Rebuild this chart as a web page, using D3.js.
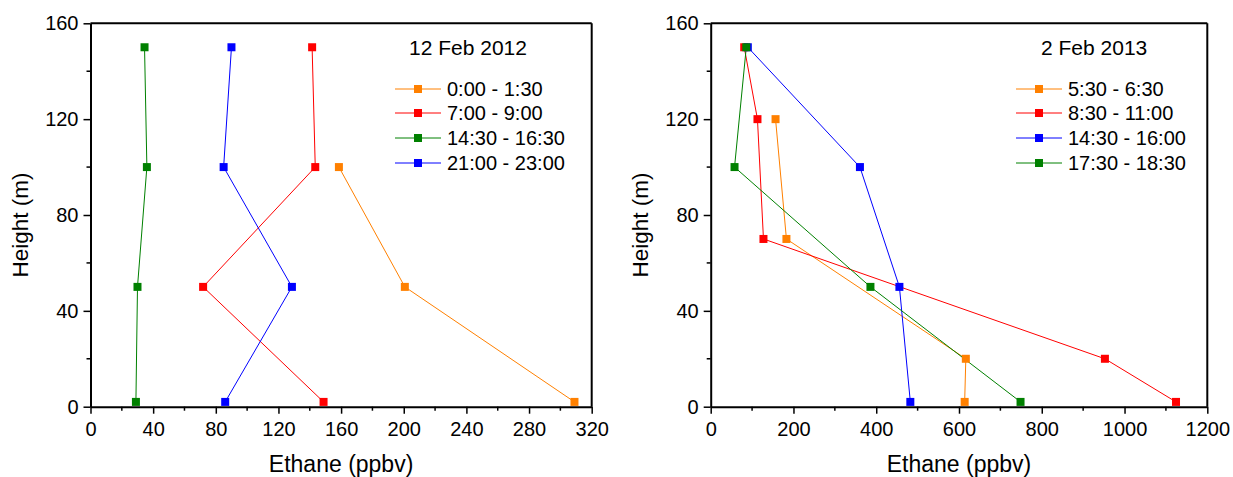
<!DOCTYPE html>
<html><head><meta charset="utf-8">
<script src="https://cdn.jsdelivr.net/npm/d3@7"></script>
<style>body{margin:0;background:#fff}svg{display:block}text{font-family:"Liberation Sans",Arial,sans-serif;fill:#000}</style>
</head><body><svg id="c" width="1233" height="477"></svg>
<script>
// Panel 1: 12 Feb 2012
const title1 = "12 Feb 2012";
const series1Names = ["0:00 - 1:30","7:00 - 9:00","14:30 - 16:30","21:00 - 23:00"];
const series1Colors = ["#FF8000","#FF0000","#008000","#0000FF"];
const s1_0000 = [[309,2],[200.7,50],[158.6,100]];
const s1_0700 = [[148.8,2],[71.9,50],[143.5,100],[141.5,150]];
const s1_1430 = [[29,2],[30,50],[36,100],[34.5,150]];
const s1_2100 = [[86,2],[128.6,50],[85,100],[90,150]];
const xTicks1 = [0,40,80,120,160,200,240,280,320];

// Panel 2: 2 Feb 2013
const title2 = "2 Feb 2013";
const series2Names = ["5:30 - 6:30","8:30 - 11:00","14:30 - 16:00","17:30 - 18:30"];
const series2Colors = ["#FF8000","#FF0000","#0000FF","#008000"];
const s2_0530 = [[156.7,120],[183,70],[616.5,20],[613.7,2]];
const s2_0830 = [[81,150],[113,120],[127.5,70],[952.6,20],[1124.4,2]];
const s2_1430 = [[89.7,150],[360.6,100],[456,50],[482.4,2]];
const s2_1730 = [[86,150],[57.6,100],[386,50],[748.7,2]];
const xTicks2 = [0,200,400,600,800,1000,1200];

const yTicks = [0,40,80,120,160];

const svg = d3.select("#c");

function panel(cfg){
  const g = svg.append("g");
  const x = d3.scaleLinear().domain(cfg.xDomain).range([cfg.x0, cfg.x1]);
  const y = d3.scaleLinear().domain([0,160]).range([406.7, 23.3]);

  // minor ticks
  const xMinor = d3.range(cfg.xDomain[0], cfg.xDomain[1]+1e-9, cfg.xMinorStep).filter(v=>!cfg.xTicks.includes(v));
  g.selectAll(".xm").data(xMinor).join("line")
    .attr("x1",d=>x(d)).attr("x2",d=>x(d)).attr("y1",406.7).attr("y2",410.7)
    .attr("stroke","#000").attr("stroke-width",1.5);
  const yMinor = [20,60,100,140];
  g.selectAll(".ym").data(yMinor).join("line")
    .attr("x1",cfg.x0-4).attr("x2",cfg.x0).attr("y1",d=>y(d)).attr("y2",d=>y(d))
    .attr("stroke","#000").attr("stroke-width",1.5);

  // x axis
  const xa = g.append("g").attr("transform","translate(0,406.7)")
    .call(d3.axisBottom(x).tickValues(cfg.xTicks).tickSize(7).tickSizeOuter(0).tickFormat(d3.format("d")));
  xa.select(".domain").attr("stroke-width",2);
  xa.selectAll(".tick line").attr("stroke-width",1.5);
  xa.selectAll("text").attr("font-size",20).attr("dy",null).attr("y",29.5);

  const ya = g.append("g").attr("transform",`translate(${cfg.x0},0)`)
    .call(d3.axisLeft(y).tickValues(yTicks).tickSize(7).tickSizeOuter(0));
  ya.select(".domain").attr("stroke-width",2);
  ya.selectAll(".tick line").attr("stroke-width",1.5);
  ya.selectAll("text").attr("font-size",20).attr("x",-12);

  // box top & right
  g.append("line").attr("x1",cfg.x0).attr("x2",cfg.x1).attr("y1",23.3).attr("y2",23.3).attr("stroke","#000").attr("stroke-width",2);
  g.append("line").attr("x1",cfg.x1).attr("x2",cfg.x1).attr("y1",23.3).attr("y2",406.7).attr("stroke","#000").attr("stroke-width",2);

  // axis titles
  g.append("text").attr("x",(cfg.x0+cfg.x1)/2).attr("y",472).attr("text-anchor","middle").attr("font-size",23).text("Ethane (ppbv)");
  g.append("text").attr("transform",`translate(${cfg.x0-63},225) rotate(-90)`).attr("text-anchor","middle").attr("font-size",22.5).text("Height (m)");

  // series
  const line = d3.line().x(d=>x(d[0])).y(d=>y(d[1]));
  cfg.series.forEach((s,i)=>{
    g.append("path").datum(s).attr("d",line).attr("fill","none").attr("stroke",cfg.colors[i]).attr("stroke-width",1);
  });
  cfg.series.forEach((s,i)=>{
    g.selectAll(null).data(s).join("rect")
      .attr("x",d=>x(d[0])-4).attr("y",d=>y(d[1])-4).attr("width",8).attr("height",8)
      .attr("fill",cfg.colors[i]);
  });

  // title + legend
  g.append("text").attr("x",cfg.titleX).attr("y",55).attr("font-size",21).text(cfg.title);
  const rows = [89,113,138,163];
  cfg.names.forEach((n,i)=>{
    g.append("line").attr("x1",cfg.legX).attr("x2",cfg.legX+46).attr("y1",rows[i]).attr("y2",rows[i]).attr("stroke",cfg.colors[i]).attr("stroke-width",1);
    g.append("rect").attr("x",cfg.legX+23-4).attr("y",rows[i]-4).attr("width",8).attr("height",8).attr("fill",cfg.colors[i]);
    g.append("text").attr("x",cfg.legX+52).attr("y",rows[i]).attr("dy","0.35em").attr("font-size",20).text(n);
  });
}

panel({xDomain:[0,320], x0:90.5, x1:591.7, xTicks:xTicks1, xMinorStep:20,
  series:[s1_0000,s1_0700,s1_1430,s1_2100], colors:series1Colors, names:series1Names,
  title:title1, titleX:409, legX:395});
panel({xDomain:[0,1200], x0:710.7, x1:1207.3, xTicks:xTicks2, xMinorStep:100,
  series:[s2_0530,s2_0830,s2_1430,s2_1730], colors:series2Colors, names:series2Names,
  title:title2, titleX:1041, legX:1016});
</script></body></html>
